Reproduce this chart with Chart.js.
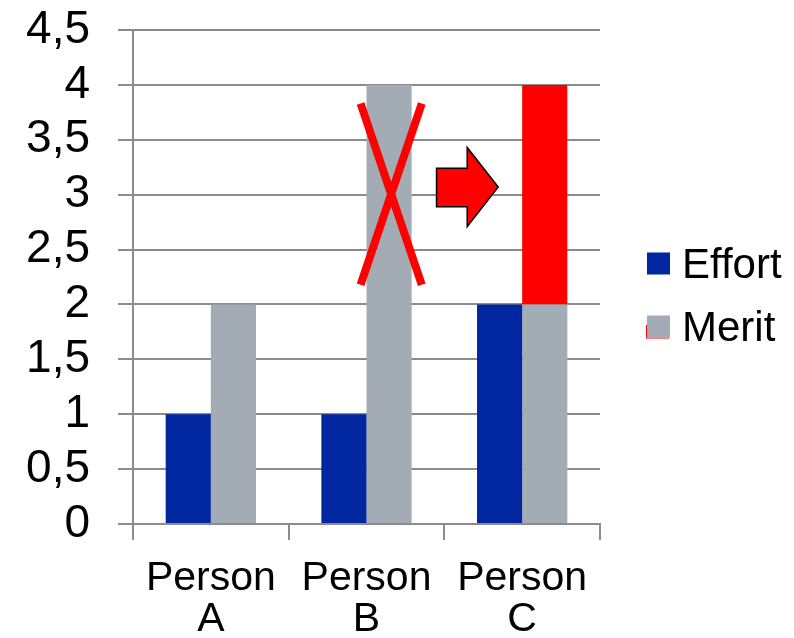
<!DOCTYPE html>
<html>
<head>
<meta charset="utf-8">
<script src="https://cdn.jsdelivr.net/npm/chart.js@4/dist/chart.umd.min.js"></script>
<style>
  html, body { margin: 0; padding: 0; background: #fff; }
  #wrap { width: 794px; height: 638px; }
</style>
</head>
<body>
<div id="wrap"><canvas id="chart"></canvas></div>
<script>
// chart data
const categories = [["Person", "A"], ["Person", "B"], ["Person", "C"]];
const effort = [1, 1, 2];
const merit = [2, 4, 2];
const meritExtra = [null, null, 2];   // red part on top of Person C
const yTicks = [0, 0.5, 1, 1.5, 2, 2.5, 3, 3.5, 4, 4.5];

// decorations, in category index / value units
const crossX = [0.962, 1.355];
const crossY = [2.18, 3.83];
const arrowX = [1.45, 1.647, 1.846];          // tail, neck, tip
const arrowY = [2.71, 2.89, 3.07, 3.24, 3.43]; // head bottom, body bottom, tip, body top, head top

const gray = "#8c8c8c";
const font = "'Liberation Sans', Arial, sans-serif";

const decorations = {
    id: "decorations",
    afterDatasetsDraw(chart) {
        const { ctx, scales: { x, y } } = chart;
        ctx.save();

        // red cross over Person B merit
        ctx.strokeStyle = "#ff0000";
        ctx.lineWidth = 8;
        ctx.beginPath();
        ctx.moveTo(x.getPixelForValue(crossX[0]), y.getPixelForValue(crossY[1]));
        ctx.lineTo(x.getPixelForValue(crossX[1]), y.getPixelForValue(crossY[0]));
        ctx.moveTo(x.getPixelForValue(crossX[1]), y.getPixelForValue(crossY[1]));
        ctx.lineTo(x.getPixelForValue(crossX[0]), y.getPixelForValue(crossY[0]));
        ctx.stroke();

        // arrow
        const px = arrowX.map(v => x.getPixelForValue(v));
        const py = arrowY.map(v => y.getPixelForValue(v));
        ctx.beginPath();
        ctx.moveTo(px[0], py[3]);
        ctx.lineTo(px[1], py[3]);
        ctx.lineTo(px[1], py[4]);
        ctx.lineTo(px[2], py[2]);
        ctx.lineTo(px[1], py[0]);
        ctx.lineTo(px[1], py[1]);
        ctx.lineTo(px[0], py[1]);
        ctx.closePath();
        ctx.fillStyle = "#ff0000";
        ctx.fill();
        ctx.strokeStyle = "#000";
        ctx.lineWidth = 1.5;
        ctx.stroke();

        ctx.restore();
    }
};

// legend on the right, drawn by hand so it sits where the original has it
const sideLegend = {
    id: "sideLegend",
    afterDraw(chart) {
        const { ctx, chartArea } = chart;
        const left = chartArea.right + 47;
        const rows = [chartArea.top + 234, chartArea.top + 297];
        ctx.save();
        ctx.font = "42px " + font;
        ctx.textBaseline = "middle";
        [0, 1].forEach((di, i) => {
            const ds = chart.data.datasets[di];
            const cy = rows[i];
            if (di === 1) {
                ctx.fillStyle = "#ff0000";
                ctx.fillRect(left - 1, cy - 2, 1, 13);
                ctx.fillRect(left - 1, cy + 10.5, 23, 1);
            }
            ctx.fillStyle = ds.backgroundColor;
            ctx.fillRect(left, cy - 11.5, 23, 22);
            ctx.fillStyle = "#000";
            ctx.fillText(ds.label, left + 35, cy + 2);
        });
        ctx.restore();
    }
};

new Chart(document.getElementById("chart"), {
    type: "bar",
    data: {
        labels: categories,
        datasets: [
            { label: "Effort", data: effort, backgroundColor: "#0027a0", stack: "effort" },
            { label: "Merit", data: merit, backgroundColor: "#a3abb5", stack: "merit" },
            { label: "Merit extra", data: meritExtra, backgroundColor: "#ff0000", stack: "merit" }
        ]
    },
    options: {
        responsive: true,
        maintainAspectRatio: false,
        animation: false,
        layout: { padding: { top: 0, bottom: 0, left: 0, right: 194 } },
        datasets: { bar: { barPercentage: 1, categoryPercentage: 0.58 } },
        plugins: {
            tooltip: { enabled: false },
            legend: { display: false }
        },
        scales: {
            x: {
                stacked: true,
                grid: { drawOnChartArea: false, color: gray, lineWidth: 2, tickLength: 16 },
                border: { color: gray, width: 2 },
                ticks: { color: "#000", font: { family: font, size: 41, lineHeight: 1.0 }, padding: 18, maxRotation: 0 },
                afterFit: s => { s.height = 114; }
            },
            y: {
                stacked: true,
                min: 0,
                max: 4.5,
                afterBuildTicks: s => { s.ticks = yTicks.map(v => ({ value: v })); },
                grid: { color: gray, lineWidth: 2, tickLength: 15 },
                border: { color: gray, width: 2 },
                ticks: {
                    color: "#000",
                    font: { family: font, size: 46, lineHeight: 1.0 },
                    padding: 28,
                    callback: v => String(v).replace(".", ",")
                },
                afterFit: s => {
                    s.width = 133;
                    s.paddingTop = 30;
                    s.paddingBottom = 23;
                }
            }
        }
    },
    plugins: [decorations, sideLegend]
});
</script>
</body>
</html>
